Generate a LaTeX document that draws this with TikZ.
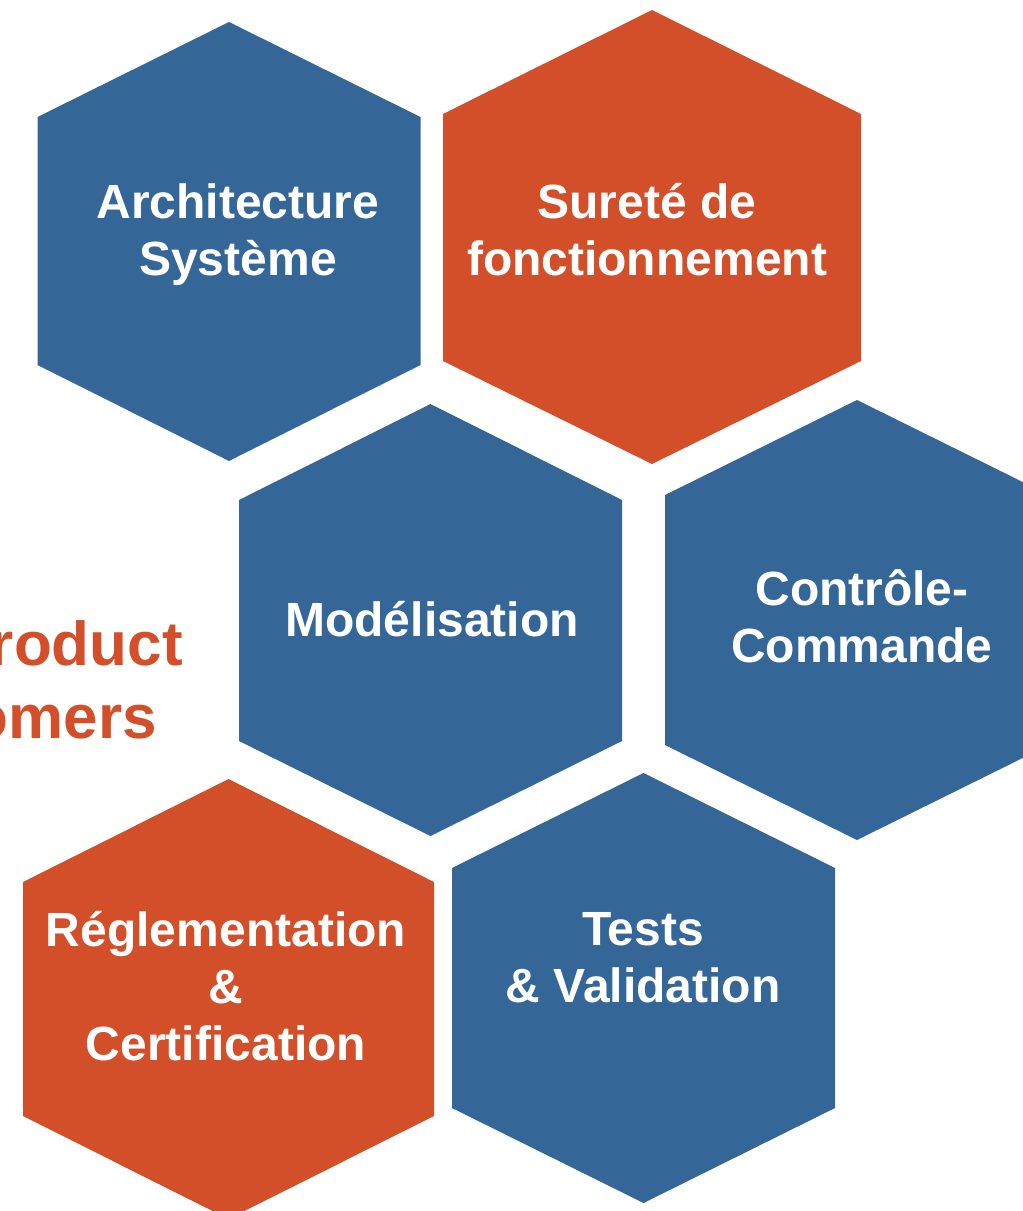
\documentclass[tikz,border=0pt]{standalone}
\usepackage{fontspec}
\setmainfont{Liberation Sans}
\usepackage{xcolor}
\usepackage{tikz}
\definecolor{hexblue}{HTML}{346798}
\definecolor{hexorange}{HTML}{D24F2A}

\begin{document}
\begin{tikzpicture}[x=1pt, y=-1pt,
    hexlabel/.style={text=white, align=center, font=\fontsize{48}{57}\selectfont\bfseries},
    sidelabel/.style={text=hexorange, anchor=base east, inner sep=0pt, font=\fontsize{62}{72}\selectfont\bfseries}]
    \useasboundingbox (0,0) rectangle (1023,1211);
    \clip (0,0) rectangle (1023,1211);

    % Hexagons: centre x / top / upper side / lower side / bottom / half width / colour
    \foreach \cx/\ty/\uy/\ly/\by/\hw/\col in {
        229/22/117/365/461/191.5/hexblue,
        652/10/114/361/464/209/hexorange,
        430.5/404/500/741/836/191.5/hexblue,
        857/400/495/745/840/192/hexblue,
        228.5/779/882/1116/1219/205.5/hexorange,
        643.5/773/868/1108/1203/191.5/hexblue}
    \fill[\col] (\cx,\ty) -- (\cx+\hw,\uy) -- (\cx+\hw,\ly) -- (\cx,\by)
        -- (\cx-\hw,\ly) -- (\cx-\hw,\uy) -- cycle;

    % Labels
    \node[hexlabel] (arch) at (238,235) {Architecture\\Système};
    \node[hexlabel] (surete) at (647,230) {Sureté de\\fonctionnement};
    \node[hexlabel] (model) at (432,619) {Modélisation};
    \node[hexlabel] (ctrl) at (862,616) {Contrôle-\\Commande};
    \node[hexlabel] (regl) at (226,986) {Réglementation\\\&\\Certification};
    \node[hexlabel] (tests) at (643,958) {Tests\\\& Validation};

    % Cut text on the left
    \node[sidelabel] (prod) at (183,665) {roduct};
    \node[sidelabel] (cust) at (157,738) {omers};
\end{tikzpicture}
\end{document}
